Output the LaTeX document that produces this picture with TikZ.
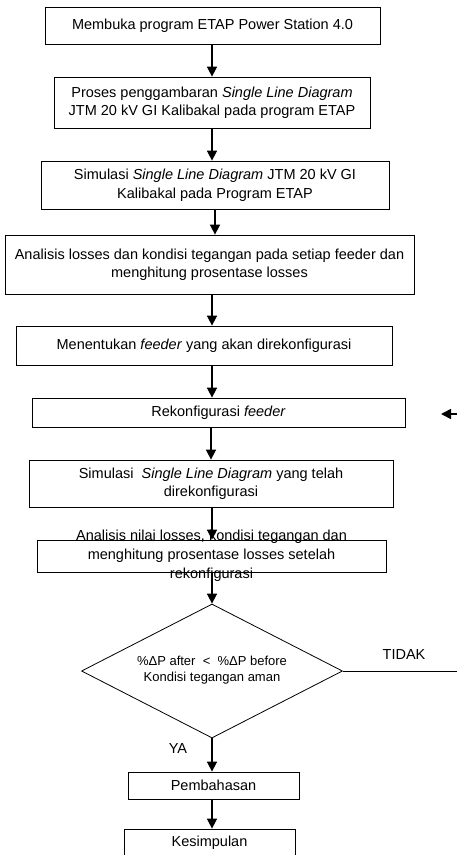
\documentclass[tikz,border=0pt]{standalone}
\usepackage{fontspec}
\setmainfont{Liberation Sans}
\usetikzlibrary{shapes.geometric,arrows.meta}
\begin{document}
\begin{tikzpicture}[x=1pt,y=-1pt,
  font=\fontsize{14.5}{18.5}\selectfont,
  box/.style={draw, line width=0.8pt, rectangle, inner sep=0pt, align=center},
  arr/.style={line width=1.6pt, -{Triangle[length=10pt,width=10pt]}},
  thin line/.style={line width=0.8pt}]
\useasboundingbox (0,0) rectangle (457,855);
\clip (0,0) rectangle (457,855);
\node[box, minimum width=335pt, minimum height=37pt] (b1) at (212.5,25.5) {Membuka program ETAP Power Station 4.0};
\node[box, minimum width=316pt, minimum height=51pt] (b2) at (212,102.5) {Proses penggambaran \textit{Single Line Diagram}\\JTM 20 kV GI Kalibakal pada program ETAP};
\node[box, minimum width=348pt, minimum height=48pt] (b3) at (215,185) {Simulasi \textit{Single Line Diagram} JTM 20 kV GI\\Kalibakal pada Program ETAP};
\node[box, minimum width=409pt, minimum height=59pt] (b4) at (209.5,264.5) {Analisis losses dan kondisi tegangan pada setiap feeder dan\\menghitung prosentase losses};
\node[box, minimum width=376pt, minimum height=39pt] (b5) at (204,345.5) {Menentukan \textit{feeder} yang akan direkonfigurasi};
\node[box, minimum width=373pt, minimum height=29pt] (b6) at (218.5,412.5) {Rekonfigurasi \textit{feeder}};
\node[box, minimum width=364pt, minimum height=47pt] (b7) at (211,483.5) {Simulasi \ \textit{Single Line Diagram} yang telah\\direkonfigurasi};
\node[box, minimum width=349pt, minimum height=32pt] (b8) at (211.5,556) {};
\node[align=center, inner sep=0pt, font=\fontsize{14.5}{19}\selectfont] (b8t) at (211.5,556) {Analisis nilai losses, kondisi tegangan dan\\menghitung prosentase losses setelah\\rekonfigurasi};
\node[draw, diamond, line width=0.8pt, inner sep=0pt, minimum width=261pt, minimum height=134pt] (d) at (212,671) {};
\node[align=center, inner sep=0pt, font=\fontsize{13}{16}\selectfont] (dt) at (212,670) {\%ΔP after \ < \ \%ΔP before\\Kondisi tegangan aman};
\node[box, minimum width=171pt, minimum height=27pt] (b9) at (213.5,785.5) {Pembahasan};
\node[box, minimum width=171pt, minimum height=28pt] (b10) at (209.5,843) {Kesimpulan};
\node[inner sep=0pt] (ya) at (178,749) {YA};
\node[inner sep=0pt] (tidak) at (404,655) {TIDAK};
\coordinate (te) at (457,671);
\coordinate (ra) at (457,414);
\coordinate (rb) at (441,414);
\draw[arr] (b1.south -| 212,0) -- (b2.north -| 212,0);
\draw[arr] (b2.south -| 212,0) -- (b3.north -| 212,0);
\draw[arr] (b3.south -| 215,0) -- (b4.north -| 215,0);
\draw[arr] (b4.south -| 212,0) -- (b5.north -| 212,0);
\draw[arr] (b5.south -| 212,0) -- (b6.north -| 212,0);
\draw[arr] (b6.south -| 211,0) -- (b7.north -| 211,0);
\draw[arr] (b7.south -| 212,0) -- (b8.north -| 212,0);
\draw[arr] (b8.south -| 212,0) -- (d.north);
\draw[arr] (d.south) -- (b9.north -| 212,0);
\draw[arr] (b9.south -| 212,0) -- (b10.north -| 212,0);
\draw[thin line] (d.east) -- (te);
\draw[arr] (ra) -- (rb);
\end{tikzpicture}
\end{document}
